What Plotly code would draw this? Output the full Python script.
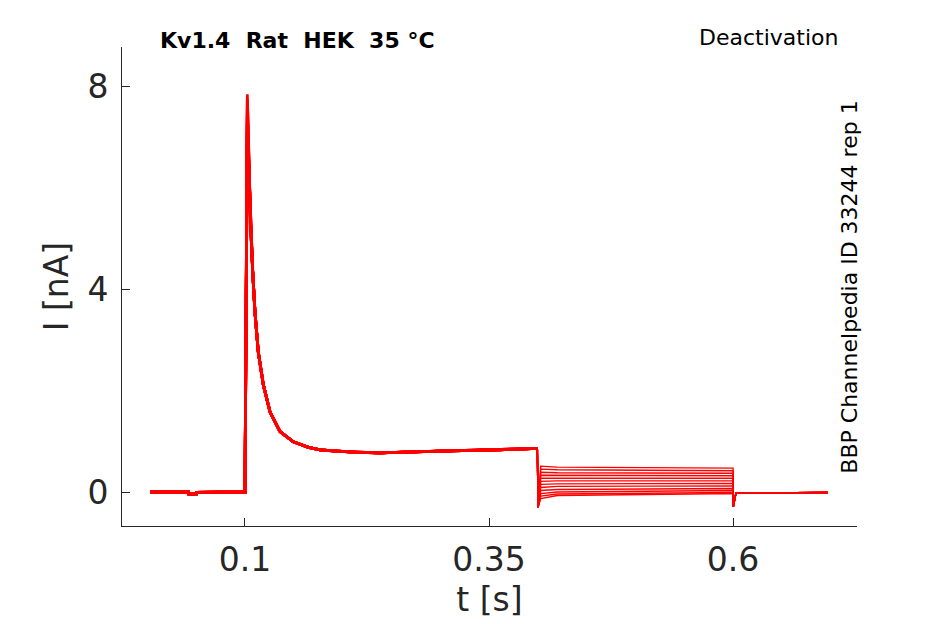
import plotly.graph_objects as go

# shared activation part (all sweeps overlap here)
t_act = [0.003, 0.042, 0.0425, 0.050, 0.0505, 0.0998, 0.1000, 0.1024, 0.1044, 0.1058,
         0.1079, 0.1102, 0.1136, 0.1188, 0.1256, 0.1359, 0.1495, 0.1650, 0.1770, 0.1950,
         0.2144, 0.2380, 0.2700, 0.3100, 0.3600, 0.3995]
i_act = [0.00, 0.00, -0.04, -0.04, -0.01, 0.00, 0.00, None, 6.05, 5.26,
         4.34, 3.55, 2.76, 2.11, 1.58, 1.19, 0.99, 0.88, 0.83, 0.80,
         0.78, 0.77, 0.79, 0.81, 0.83, 0.86]

# per-sweep values
peak = [7.84, 7.75, 7.65, 7.55, 7.45, 7.40, 7.35, 7.30, 7.25, 7.20, 7.15, 7.10]
tail_early = [0.51, 0.45, 0.39, 0.33, 0.27, 0.21, 0.15, 0.09, 0.03, -0.03, -0.08, -0.13]
tail_mid = [0.49, 0.44, 0.38, 0.33, 0.27, 0.22, 0.16, 0.11, 0.05, 0.00, -0.04, -0.07]
tail_late = [0.47, 0.42, 0.37, 0.32, 0.27, 0.22, 0.17, 0.12, 0.07, 0.03, -0.01, -0.03]

# tail step and return to holding
t_tail = [0.3995, 0.4000, 0.4003, 0.4030, 0.4200, 0.6000]
i_step_end = 0.86
spike_in = -0.30
t_post = [0.6000, 0.6005, 0.6030, 0.6970]
i_post = [-0.27, -0.27, -0.02, -0.01]

fig = go.Figure()

for k in range(len(peak)):
    ys = [peak[k] if v is None else v for v in i_act]
    fig.add_trace(go.Scatter(
        x=t_act, y=ys, mode="lines",
        line=dict(color="#ff0000", width=2.8),
        showlegend=False, hoverinfo="skip"
    ))
    fig.add_trace(go.Scatter(
        x=t_tail + t_post,
        y=[i_step_end, spike_in, spike_in, tail_early[k], tail_mid[k], tail_late[k]] + i_post,
        mode="lines",
        line=dict(color="#ff0000", width=1.4),
        showlegend=False, hoverinfo="skip"
    ))

axis_color = "#262626"
fig.update_layout(
    width=937,
    height=616,
    margin=dict(l=114, r=88, t=39, b=98),
    plot_bgcolor="white",
    paper_bgcolor="white",
    font=dict(family="DejaVu Sans", color=axis_color),
    xaxis=dict(
        range=[-0.026, 0.727],
        tickvals=[0.1, 0.35, 0.6],
        ticktext=["0.1", "0.35", "0.6"],
        ticks="inside", ticklen=8, tickcolor=axis_color,
        showline=True, linecolor=axis_color, linewidth=1,
        showgrid=False, zeroline=False,
        tickfont=dict(size=33, color=axis_color),
        ticklabelstandoff=4,
        title=dict(text="t [s]", font=dict(size=33, color=axis_color), standoff=10),
    ),
    yaxis=dict(
        range=[-0.67, 8.77],
        tickvals=[0, 4, 8],
        ticks="inside", ticklen=8, tickcolor=axis_color,
        showline=True, linecolor=axis_color, linewidth=1,
        showgrid=False, zeroline=False,
        tickfont=dict(size=33, color=axis_color),
        ticklabelstandoff=6,
        title=dict(text="I [nA]", font=dict(size=33, color=axis_color), standoff=8),
    ),
    annotations=[
        dict(xref="paper", yref="paper", x=0.049, y=1.0146,
             xanchor="left", yanchor="middle", showarrow=False,
             text="<b>Kv1.4  Rat  HEK  35 °C</b>",
             font=dict(size=22, color="black")),
        dict(xref="paper", yref="paper", x=0.977, y=1.019,
             xanchor="right", yanchor="middle", showarrow=False,
             text="Deactivation", font=dict(size=22, color="black")),
        dict(xref="paper", yref="paper", x=0.990, y=0.499,
             xanchor="center", yanchor="middle", showarrow=False, textangle=-90,
             text="BBP Channelpedia ID 33244 rep 1", font=dict(size=22, color="black")),
    ],
)

fig.write_html("out.html")
